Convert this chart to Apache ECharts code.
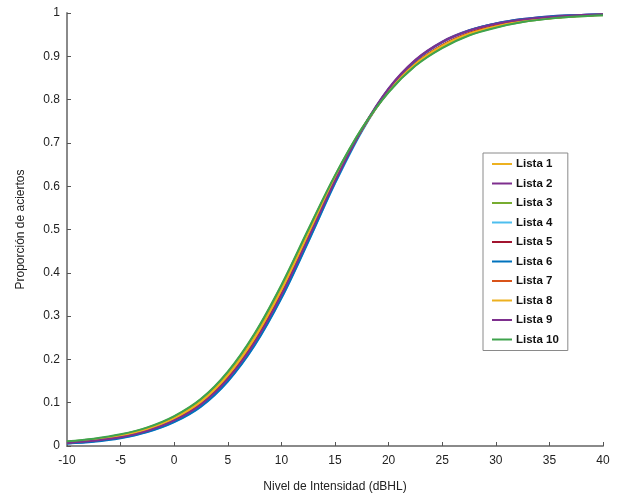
<!DOCTYPE html>
<html>
<head>
<meta charset="utf-8">
<script src="https://cdn.jsdelivr.net/npm/echarts@6/dist/echarts.min.js"></script>
<style>html,body{margin:0;padding:0;background:#fff}#c{width:623px;height:498px}</style>
</head>
<body>
<div id="c"></div>
<script>
const xValues = [-10,-7.5,-5,-2.5,0,2.5,5,7.5,10,12.5,15,17.5,20,22.5,25,27.5,30,32.5,35,37.5,40];
const seriesNames = ['Lista 1','Lista 2','Lista 3','Lista 4','Lista 5','Lista 6','Lista 7','Lista 8','Lista 9','Lista 10'];
const seriesColors = ['#EDB120','#7E2F8E','#77AC30','#4DBEEE','#A2142F','#0072BD','#D95319','#EDB120','#7E2F8E','#3FA34D'];
const lista1  = [0.009,0.014,0.024,0.039,0.064,0.103,0.164,0.250,0.362,0.491,0.619,0.731,0.820,0.882,0.924,0.952,0.969,0.981,0.988,0.993,0.996];
const lista2  = [0.006,0.011,0.020,0.034,0.058,0.095,0.154,0.238,0.348,0.478,0.612,0.731,0.826,0.892,0.934,0.960,0.976,0.986,0.992,0.995,0.997];
const lista3  = [0.010,0.016,0.026,0.042,0.068,0.108,0.170,0.258,0.370,0.498,0.624,0.733,0.818,0.879,0.920,0.949,0.967,0.979,0.987,0.992,0.995];
const lista4  = [0.006,0.011,0.019,0.033,0.056,0.092,0.150,0.233,0.342,0.472,0.606,0.726,0.822,0.889,0.932,0.959,0.975,0.985,0.991,0.995,0.997];
const lista5  = [0.008,0.013,0.022,0.037,0.061,0.099,0.159,0.244,0.355,0.484,0.614,0.729,0.820,0.884,0.926,0.954,0.971,0.982,0.989,0.993,0.996];
const lista6  = [0.006,0.010,0.018,0.032,0.055,0.091,0.149,0.232,0.341,0.471,0.607,0.728,0.824,0.890,0.933,0.960,0.976,0.986,0.992,0.995,0.997];
const lista7  = [0.008,0.014,0.023,0.038,0.063,0.101,0.162,0.248,0.359,0.488,0.617,0.730,0.820,0.883,0.925,0.953,0.970,0.981,0.988,0.993,0.996];
const lista8  = [0.009,0.014,0.024,0.039,0.064,0.102,0.163,0.249,0.360,0.489,0.617,0.730,0.819,0.882,0.924,0.952,0.969,0.981,0.988,0.993,0.996];
const lista9  = [0.007,0.012,0.020,0.035,0.059,0.096,0.155,0.239,0.349,0.479,0.612,0.730,0.825,0.891,0.933,0.959,0.975,0.985,0.991,0.995,0.997];
const lista10 = [0.011,0.017,0.027,0.043,0.069,0.109,0.172,0.260,0.372,0.500,0.625,0.733,0.817,0.878,0.919,0.948,0.966,0.979,0.987,0.992,0.995];
const allData = [lista1,lista2,lista3,lista4,lista5,lista6,lista7,lista8,lista9,lista10];

const chart = echarts.init(document.getElementById('c'), null, {renderer:'canvas'});
const font = 'Liberation Sans, Arial, Helvetica, sans-serif';
chart.setOption({
  animation:false,
  backgroundColor:'#fff',
  grid:{left:67,right:20,top:13,bottom:49,containLabel:false},
  xAxis:{
    type:'value',min:-10,max:40,interval:5,
    name:'Nivel de Intensidad (dBHL)',nameLocation:'middle',nameGap:35,
    nameTextStyle:{fontFamily:font,fontSize:12,color:'#222'},
    axisLine:{show:true,onZero:false,lineStyle:{color:'#8a8a8a',width:2}},
    axisTick:{show:true,inside:true,length:4,lineStyle:{color:'#555',width:1}},
    axisLabel:{fontFamily:font,fontSize:12,color:'#222',margin:9},
    splitLine:{show:false}
  },
  yAxis:{
    type:'value',min:0,max:1,interval:0.1,
    name:'Proporción de aciertos',nameLocation:'middle',nameGap:40,nameRotate:90,
    nameTextStyle:{fontFamily:font,fontSize:12,color:'#222'},
    axisLine:{show:true,onZero:false,lineStyle:{color:'#8a8a8a',width:2}},
    axisTick:{show:true,inside:true,length:4,lineStyle:{color:'#555',width:1}},
    axisLabel:{fontFamily:font,fontSize:12,color:'#222',margin:7},
    splitLine:{show:false}
  },
  legend:{
    orient:'vertical',left:483,top:153,
    padding:[4,9,4,9],
    backgroundColor:'#fff',borderColor:'#8a8a8a',borderWidth:1,
    icon:'rect',itemWidth:20,itemHeight:2,itemGap:5.5,
    textStyle:{fontFamily:font,fontSize:11.5,fontWeight:'bold',color:'#111',padding:[0,0,0,-1],lineHeight:14},
    data:seriesNames
  },
  series:seriesNames.map((n,i)=>({
    name:n,type:'line',smooth:0.35,symbol:'none',
    color:seriesColors[i],
    lineStyle:{width:2,color:seriesColors[i]},
    data:xValues.map((x,j)=>[x,allData[i][j]])
  }))
});
</script>
</body>
</html>
